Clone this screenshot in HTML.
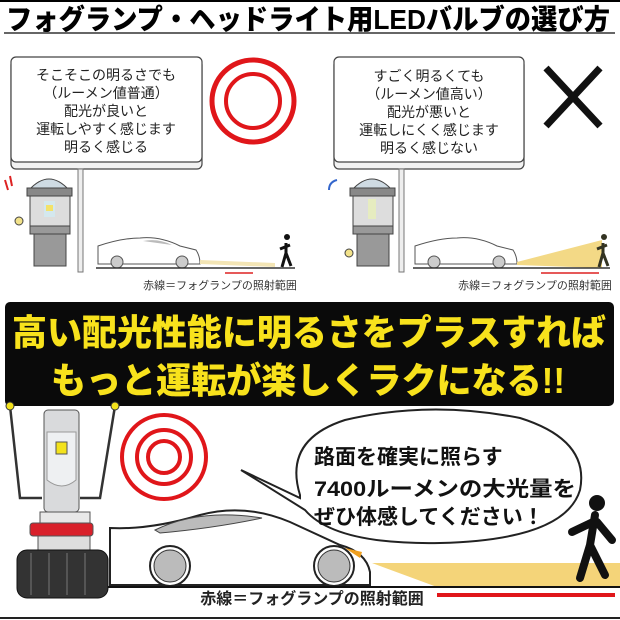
<!DOCTYPE html>
<html><head><meta charset="utf-8"><style>
body{margin:0;background:#fff;width:620px;height:620px;overflow:hidden}
svg{display:block}
text{font-family:"Liberation Sans","Noto Sans CJK JP",sans-serif}
</style></head><body>
<svg width="620" height="620" viewBox="0 0 620 620">
<rect width="620" height="620" fill="#fff"/>
<line x1="0" y1="1" x2="620" y2="1" stroke="#000" stroke-width="2"/>
<text x="308" y="29" text-anchor="middle" font-size="28" font-weight="900" fill="#000" textLength="604" lengthAdjust="spacingAndGlyphs">フォグランプ・ヘッドライト用LEDバルブの選び方</text>
<line x1="4" y1="33" x2="615" y2="33" stroke="#333" stroke-width="1.5"/>

<!-- left box -->
<rect x="11" y="60" width="191" height="109" rx="5" fill="#f2f2f2" stroke="#444" stroke-width="1.2"/>
<rect x="11" y="57" width="191" height="105" rx="5" fill="#fff" stroke="#444" stroke-width="1.2"/>
<g font-size="14" fill="#222" text-anchor="middle">
<text x="106" y="80">そこそこの明るさでも</text>
<text x="106" y="98">（ルーメン値普通）</text>
<text x="106" y="116">配光が良いと</text>
<text x="106" y="134">運転しやすく感じます</text>
<text x="106" y="152">明るく感じる</text>
</g>
<circle cx="253" cy="101" r="41" fill="none" stroke="#e0161a" stroke-width="5"/>
<circle cx="253" cy="101" r="27" fill="none" stroke="#e0161a" stroke-width="4"/>
<rect x="78" y="169" width="5" height="103" fill="#eee" stroke="#777"/>
<!-- left character -->
<g>
<path d="M29 190 Q49 168 69 190 Z" fill="#cfdbe3" stroke="#444"/>
<rect x="27" y="188" width="45" height="8" fill="#888" stroke="#444"/>
<rect x="30" y="196" width="40" height="30" fill="#ddd" stroke="#444"/>
<rect x="44" y="201" width="11" height="16" fill="#d4e8ee"/>
<rect x="46" y="205" width="7" height="6" fill="#f3e26a"/>
<rect x="30" y="226" width="40" height="8" fill="#999" stroke="#444"/>
<rect x="34" y="234" width="32" height="32" fill="#999" stroke="#444"/>
<circle cx="19" cy="221" r="4" fill="#f2e28a" stroke="#444"/>
<path d="M5 180 l3 10 M10 176 l2 10" stroke="#d22" stroke-width="2"/>
</g>
<!-- left car -->
<path d="M98 264 L98 246 Q122 238 140 238 Q160 236 180 246 L196 250 Q200 256 200 264 Z" fill="#fff" stroke="#555"/>
<path d="M143 241 Q158 238 172 245 Z" fill="#bbb"/>
<circle cx="117" cy="262" r="6" fill="#ccc" stroke="#555"/>
<circle cx="182" cy="262" r="6" fill="#ccc" stroke="#555"/>
<path d="M200 260 L275 263 L275 267 L200 264 Z" fill="#f3e5b5"/>
<line x1="96" y1="268" x2="295" y2="268" stroke="#333" stroke-width="1.5"/>
<path d="M286 243 l0 10 l-4 14 M286 253 l5 13 M280 249 l10 -4" stroke="#111" stroke-width="3" fill="none"/>
<circle cx="287" cy="237" r="3" fill="#111"/>
<line x1="225" y1="273" x2="253" y2="273" stroke="#d22" stroke-width="1.5"/>
<text x="220" y="289" font-size="11" fill="#333" text-anchor="middle">赤線＝フォグランプの照射範囲</text>

<!-- right box -->
<rect x="334" y="60" width="190" height="109" rx="5" fill="#f2f2f2" stroke="#444" stroke-width="1.2"/>
<rect x="334" y="57" width="190" height="105" rx="5" fill="#fff" stroke="#444" stroke-width="1.2"/>
<g font-size="14" fill="#222" text-anchor="middle">
<text x="429" y="81">すごく明るくても</text>
<text x="429" y="99">（ルーメン値高い）</text>
<text x="429" y="117">配光が悪いと</text>
<text x="429" y="135">運転しにくく感じます</text>
<text x="429" y="153">明るく感じない</text>
</g>
<path d="M546 68 L600 126 M600 68 L546 126" stroke="#111" stroke-width="7"/>
<rect x="399" y="169" width="5" height="103" fill="#eee" stroke="#777"/>
<g>
<path d="M352 190 Q372 168 392 190 Z" fill="#cfdbe3" stroke="#444"/>
<rect x="350" y="188" width="45" height="8" fill="#888" stroke="#444"/>
<rect x="353" y="196" width="40" height="30" fill="#ddd" stroke="#444"/>
<rect x="368" y="199" width="8" height="20" fill="#e6ecc0"/>
<rect x="353" y="226" width="40" height="8" fill="#999" stroke="#444"/>
<rect x="357" y="234" width="32" height="32" fill="#999" stroke="#444"/>
<circle cx="349" cy="253" r="4" fill="#f2e28a" stroke="#444"/>
<path d="M337 180 q-8 2 -8 10" stroke="#36c" stroke-width="2" fill="none"/>
</g>
<path d="M415 264 L415 246 Q439 238 457 238 Q477 236 497 246 L513 250 Q517 256 517 264 Z" fill="#fff" stroke="#555"/>
<circle cx="434" cy="262" r="6" fill="#ccc" stroke="#555"/>
<circle cx="499" cy="262" r="6" fill="#ccc" stroke="#555"/>
<path d="M517 262 L602 240 L602 268 L517 265 Z" fill="#f3d986"/>
<line x1="413" y1="268" x2="610" y2="268" stroke="#333" stroke-width="1.5"/>
<path d="M603 243 l0 10 l-4 14 M603 253 l5 13 M597 249 l10 -4" stroke="#332" stroke-width="3" fill="none"/>
<circle cx="604" cy="237" r="3" fill="#332"/>
<line x1="541" y1="273" x2="599" y2="273" stroke="#d22" stroke-width="1.5"/>
<text x="535" y="289" font-size="11" fill="#333" text-anchor="middle">赤線＝フォグランプの照射範囲</text>

<!-- banner -->
<rect x="5" y="302" width="609" height="104" rx="5" fill="#0a0a0a"/>
<g font-size="36" font-weight="900" fill="#f8e21c" text-anchor="middle">
<text x="309" y="345" textLength="594" lengthAdjust="spacingAndGlyphs">高い配光性能に明るさをプラスすれば</text>
<text x="308" y="393" textLength="514" lengthAdjust="spacingAndGlyphs">もっと運転が楽しくラクになる!!</text>
</g>

<!-- bottom bulb -->
<path d="M10 406 L20 498 L42 498 M115 406 L100 498 L80 498" stroke="#333" stroke-width="2.5" fill="none"/>
<circle cx="10" cy="406" r="4" fill="#f3e21c" stroke="#333"/>
<circle cx="115" cy="406" r="4" fill="#f3e21c" stroke="#333"/>
<rect x="44" y="410" width="35" height="102" rx="4" fill="#d9dadc" stroke="#555"/>
<path d="M47 432 L76 432 L76 480 Q62 492 47 480 Z" fill="#eef0f2" stroke="#999"/>
<rect x="56" y="442" width="11" height="12" fill="#f3e21c" stroke="#555"/>
<rect x="40" y="512" width="50" height="12" fill="#e8e8e8" stroke="#555"/>
<rect x="30" y="523" width="63" height="13" rx="3" fill="#d8202a" stroke="#555"/>
<rect x="38" y="536" width="52" height="14" fill="#ddd" stroke="#555"/>
<rect x="17" y="550" width="91" height="48" rx="10" fill="#333" stroke="#111"/>
<rect x="30" y="553" width="2" height="42" fill="#555"/><rect x="48" y="553" width="2" height="42" fill="#555"/><rect x="66" y="553" width="2" height="42" fill="#555"/><rect x="84" y="553" width="2" height="42" fill="#555"/>

<circle cx="164" cy="457" r="42" fill="none" stroke="#e0161a" stroke-width="4"/>
<circle cx="164" cy="457" r="27" fill="none" stroke="#e0161a" stroke-width="4"/>
<circle cx="164" cy="457" r="16" fill="none" stroke="#e0161a" stroke-width="4"/>

<!-- bubble -->
<path d="M300 495 Q283 440 345 420 Q430 400 520 418 Q590 440 580 490 Q565 540 440 543 Q335 545 305 510 L241 470 L300 498 Z" fill="#fff" stroke="#222" stroke-width="2"/>
<g font-size="21" font-weight="bold" fill="#111">
<text x="314" y="464">路面を確実に照らす</text>
<text x="314" y="496" textLength="262" lengthAdjust="spacingAndGlyphs">7400ルーメンの大光量を</text>
<text x="314" y="524">ぜひ体感してください！</text>
</g>

<!-- bottom car -->
<path d="M110 585 L110 528 Q150 530 200 515 Q245 503 290 522 L340 545 Q366 552 370 572 L370 585 Z" fill="#fff" stroke="#222" stroke-width="2"/>
<path d="M155 530 Q200 508 262 518 Q215 528 160 533 Z" fill="#bbb" stroke="#444"/>
<circle cx="170" cy="566" r="20" fill="#fff" stroke="#222" stroke-width="2"/>
<circle cx="170" cy="566" r="16" fill="#bbb" stroke="#333"/>
<circle cx="334" cy="566" r="20" fill="#fff" stroke="#222" stroke-width="2"/>
<circle cx="334" cy="566" r="16" fill="#bbb" stroke="#333"/>
<path d="M345 548 L362 552 L360 558 Z" fill="#f0a020"/>
<path d="M372 563 L620 563 L620 587 L437 587 Z" fill="#f3cf6a" opacity="0.9"/>
<line x1="108" y1="587" x2="620" y2="587" stroke="#111" stroke-width="2"/>
<!-- person -->
<circle cx="597" cy="503" r="8" fill="#111"/>
<path d="M595 515 L590 545 L580 578 M590 545 L605 575 M593 522 L572 532 M597 522 L612 540" stroke="#111" stroke-width="8" fill="none" stroke-linecap="round"/>
<rect x="437" y="593" width="178" height="4" fill="#e0161a"/>
<text x="312" y="604" font-size="16" font-weight="bold" fill="#222" text-anchor="middle">赤線＝フォグランプの照射範囲</text>
<line x1="0" y1="618" x2="620" y2="618" stroke="#222" stroke-width="2"/>
</svg>
</body></html>
